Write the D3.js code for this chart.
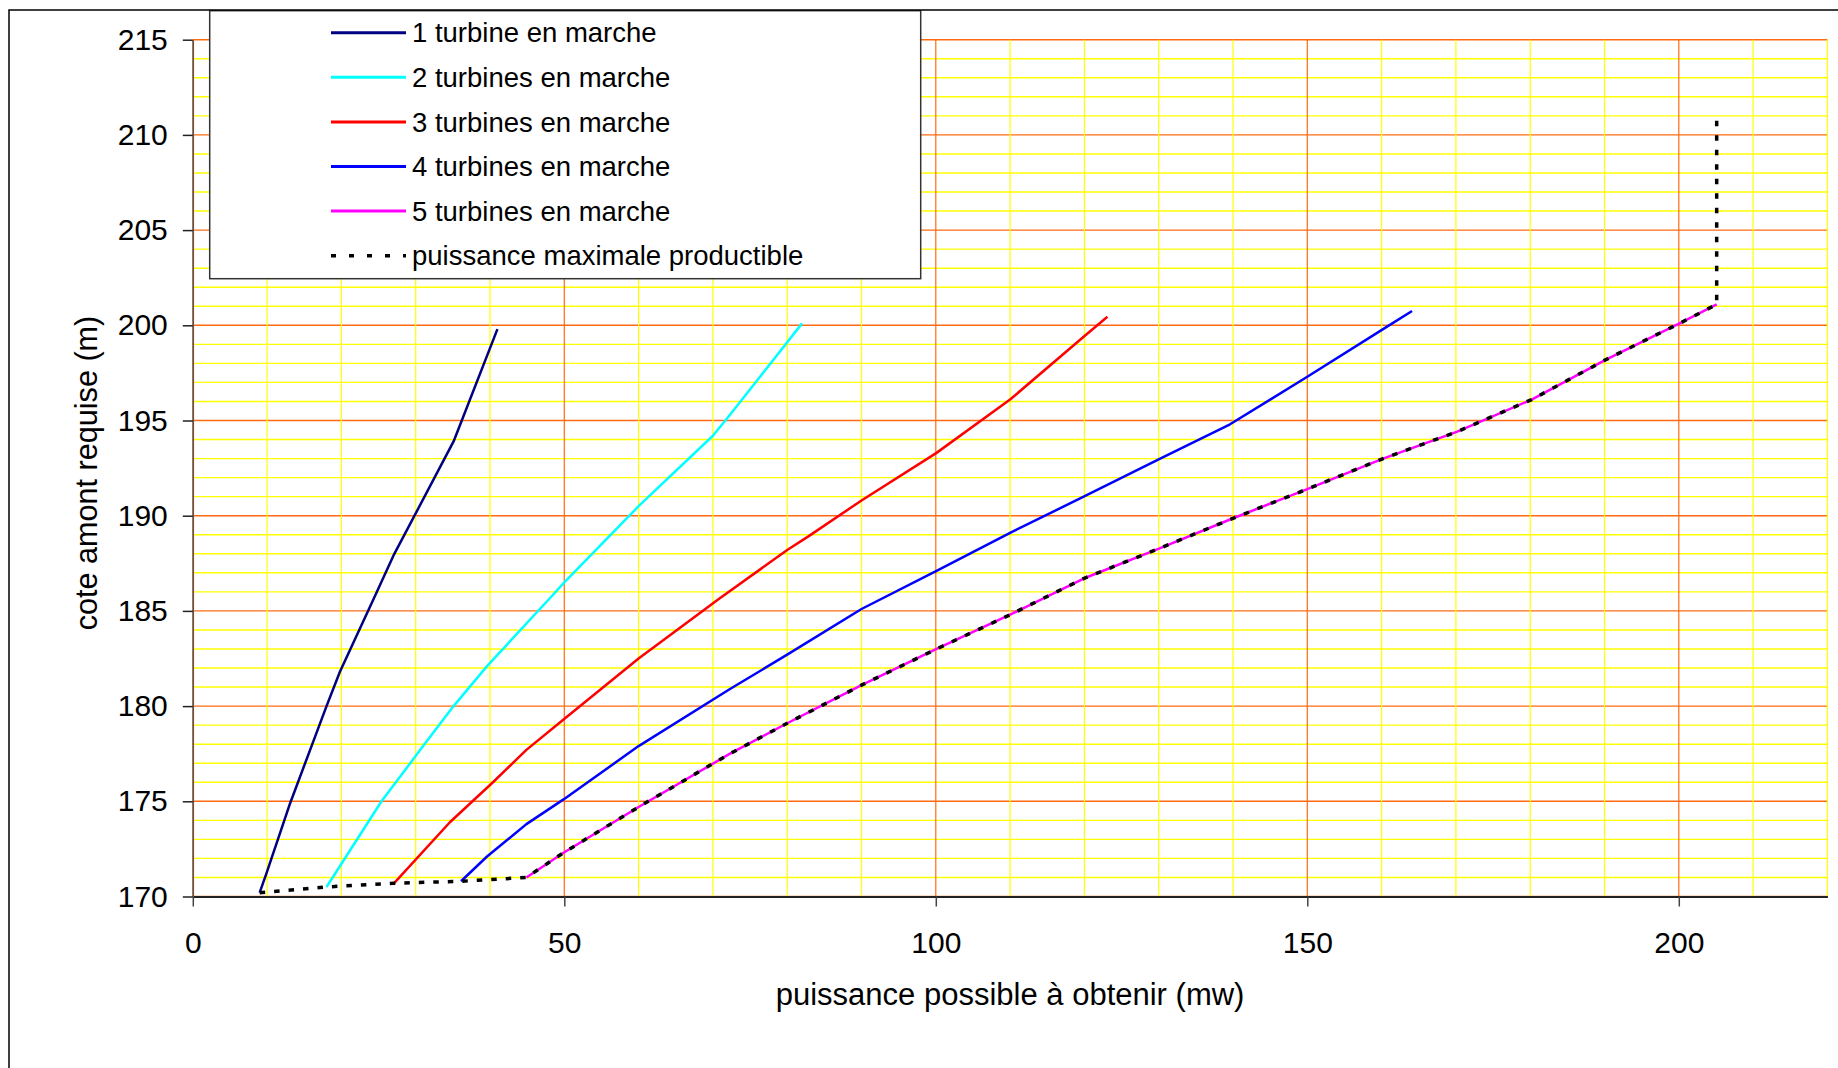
<!DOCTYPE html>
<html>
<head>
<meta charset="utf-8">
<script src="https://cdn.jsdelivr.net/npm/d3@7"></script>
<style>
  html, body { margin: 0; padding: 0; background: #fff; }
  svg { display: block; font-family: "Liberation Sans", Arial, sans-serif; }
</style>
</head>
<body>
<div id="chart"></div>
<script>
// puissance (MW) vs cote amont (m)
const power1 = [9.0, 9.9, 13.1, 18.0, 19.8, 24.3, 27.0, 35.1, 41.0];
const level1 = [170.2, 171.2, 174.9, 180.0, 181.8, 185.6, 187.9, 193.9, 199.8];

const power2 = [18.0, 25.4, 31.0, 35.1, 39.6, 47.9, 50.0, 60.0, 70.0, 72.3, 82.0];
const level2 = [170.5, 175.0, 177.9, 180.0, 182.1, 185.6, 186.5, 190.5, 194.2, 195.3, 200.1];

const power3 = [27.1, 34.6, 40.4, 44.9, 49.9, 60.0, 70.7, 80.0, 82.8, 90.0, 100.1, 110.0, 119.9, 123.1];
const level3 = [170.7, 173.9, 176.0, 177.7, 179.3, 182.5, 185.6, 188.2, 188.9, 190.8, 193.3, 196.1, 199.4, 200.45];

const power4 = [36.1, 39.6, 44.9, 49.9, 60.0, 72.3, 80.0, 90.0, 100.1, 110.0, 119.9, 130.2, 139.6, 150.0, 160.2, 164.1];
const level4 = [170.8, 172.1, 173.8, 175.1, 177.9, 180.9, 182.7, 185.1, 187.1, 189.1, 191.0, 193.0, 194.8, 197.3, 199.8, 200.75];

const power5 = [44.9, 49.9, 60.0, 72.3, 80.0, 90.0, 100.1, 110.0, 119.9, 130.2, 139.6, 150.0, 160.2, 170.1, 180.2, 190.2, 200.1, 205.1];
const level5 = [171.0, 172.3, 174.7, 177.5, 179.1, 181.1, 183.0, 184.8, 186.7, 188.3, 189.8, 191.4, 193.0, 194.4, 196.1, 198.2, 200.1, 201.1];

// puissance maximale productible (dotted envelope)
const powerMax = [9.0, 18.0, 27.1, 36.1, 44.9, 49.9, 60.0, 72.3, 80.0, 90.0, 100.1, 110.0, 119.9, 130.2, 139.6, 150.0, 160.2, 170.1, 180.2, 190.2, 200.1, 205.1, 205.1];
const levelMax = [170.2, 170.5, 170.7, 170.8, 171.0, 172.3, 174.7, 177.5, 179.1, 181.1, 183.0, 184.8, 186.7, 188.3, 189.8, 191.4, 193.0, 194.4, 196.1, 198.2, 200.1, 201.1, 211.0];

const seriesNames = [
  '1 turbine en marche',
  '2 turbines en marche',
  '3 turbines en marche',
  '4 turbines en marche',
  '5 turbines en marche',
  'puissance maximale productible'
];
const seriesColors = ['#000080', '#00ffff', '#ff0000', '#0000ff', '#ff00ff', '#000000'];

const xTicks = [0, 50, 100, 150, 200];
const yTicks = [170, 175, 180, 185, 190, 195, 200, 205, 210, 215];
const xDomain = [0, 220];
const yDomain = [170, 215];
const xTitle = 'puissance possible à obtenir (mw)';
const yTitle = 'cote amont requise (m)';

const width = 1838;
const height = 1068;
const margin = { left: 192.8, top: 39.7, right: 10.6, bottom: 171.5 };
const innerW = width - margin.left - margin.right;
const innerH = height - margin.top - margin.bottom;

const series = [
  { name: seriesNames[0], color: seriesColors[0], xs: power1, ys: level1 },
  { name: seriesNames[1], color: seriesColors[1], xs: power2, ys: level2 },
  { name: seriesNames[2], color: seriesColors[2], xs: power3, ys: level3 },
  { name: seriesNames[3], color: seriesColors[3], xs: power4, ys: level4 },
  { name: seriesNames[4], color: seriesColors[4], xs: power5, ys: level5 },
  { name: seriesNames[5], color: seriesColors[5], xs: powerMax, ys: levelMax, dashed: true }
];

const svg = d3.select('#chart')
  .append('svg')
  .attr('width', width)
  .attr('height', height);

const g = svg.append('g')
  .attr('transform', `translate(${margin.left},${margin.top})`);

const x = d3.scaleLinear().domain(xDomain).range([0, innerW]);
const y = d3.scaleLinear().domain(yDomain).range([innerH, 0]);

// grid: yellow every unit / 10 MW, orange on the labelled values
const grid = g.append('g');
grid.selectAll('line.h')
  .data(y.ticks(45))
  .join('line')
  .attr('class', 'h')
  .attr('x1', 0)
  .attr('x2', innerW)
  .attr('y1', d => y(d))
  .attr('y2', d => y(d))
  .attr('stroke', d => d % 5 === 0 ? '#ff6a10' : '#ffff00')
  .attr('stroke-width', 1.4);

grid.selectAll('line.v')
  .data(x.ticks(22))
  .join('line')
  .attr('class', 'v')
  .attr('x1', d => x(d))
  .attr('x2', d => x(d))
  .attr('y1', 0)
  .attr('y2', innerH)
  .attr('stroke', d => d % 50 === 0 ? '#ff6a10' : '#ffff00')
  .attr('stroke-width', 1.2);

// curves
const line = d3.line()
  .x(d => x(d[0]))
  .y(d => y(d[1]));

g.append('g')
  .selectAll('path')
  .data(series)
  .join('path')
  .attr('fill', 'none')
  .attr('stroke', d => d.color)
  .attr('stroke-width', d => d.dashed ? 3.5 : 2.5)
  .attr('stroke-dasharray', d => d.dashed ? '5.5,9' : null)
  .attr('stroke-linejoin', 'round')
  .attr('d', d => line(d.xs.map((v, i) => [v, d.ys[i]])));

// axes
const xAxis = g.append('g')
  .attr('transform', `translate(0,${innerH})`)
  .call(d3.axisBottom(x).tickValues(xTicks).tickSize(10).tickSizeOuter(0).tickPadding(25));
xAxis.select('.domain').attr('stroke', '#222').attr('stroke-width', 2);
xAxis.selectAll('.tick line').attr('stroke', '#444').attr('stroke-width', 1.5);
xAxis.selectAll('.tick text')
  .attr('fill', '#000')
  .style('font-size', '30px');

const yAxis = g.append('g')
  .call(d3.axisLeft(y).tickValues(yTicks).tickSize(10).tickSizeOuter(0).tickPadding(15));
yAxis.select('.domain').attr('stroke', '#555').attr('stroke-width', 1.5);
yAxis.selectAll('.tick line').attr('stroke', '#222').attr('stroke-width', 1.5);
yAxis.selectAll('.tick text')
  .attr('fill', '#000')
  .style('font-size', '30px');

// axis titles
svg.append('text')
  .attr('x', margin.left + innerW / 2)
  .attr('y', 1005)
  .attr('text-anchor', 'middle')
  .style('font-size', '31px')
  .text(xTitle);

svg.append('text')
  .attr('transform', 'translate(86,473) rotate(-90)')
  .attr('text-anchor', 'middle')
  .attr('dy', '0.35em')
  .style('font-size', '30.6px')
  .text(yTitle);

// legend
const legend = svg.append('g')
  .attr('transform', 'translate(209.7,10.7)');

legend.append('rect')
  .attr('width', 711)
  .attr('height', 268)
  .attr('fill', '#fff')
  .attr('stroke', '#333')
  .attr('stroke-width', 1.5);

const item = legend.selectAll('g.item')
  .data(series)
  .join('g')
  .attr('class', 'item')
  .attr('transform', (d, i) => `translate(0,${22 + i * 44.6})`);

item.append('line')
  .attr('x1', 121.3)
  .attr('x2', 196.3)
  .attr('stroke', d => d.color)
  .attr('stroke-width', d => d.dashed ? 3.5 : 3)
  .attr('stroke-dasharray', d => d.dashed ? '5,13' : null);

item.append('text')
  .attr('x', 202.3)
  .attr('dy', '0.35em')
  .style('font-size', '27.5px')
  .text(d => d.name);

// outer chart frame (runs off the page at right and bottom)
svg.append('path')
  .attr('d', `M9,${height + 5}V10H${width + 5}`)
  .attr('fill', 'none')
  .attr('stroke', '#000')
  .attr('stroke-width', 1.5);
</script>
</body>
</html>
